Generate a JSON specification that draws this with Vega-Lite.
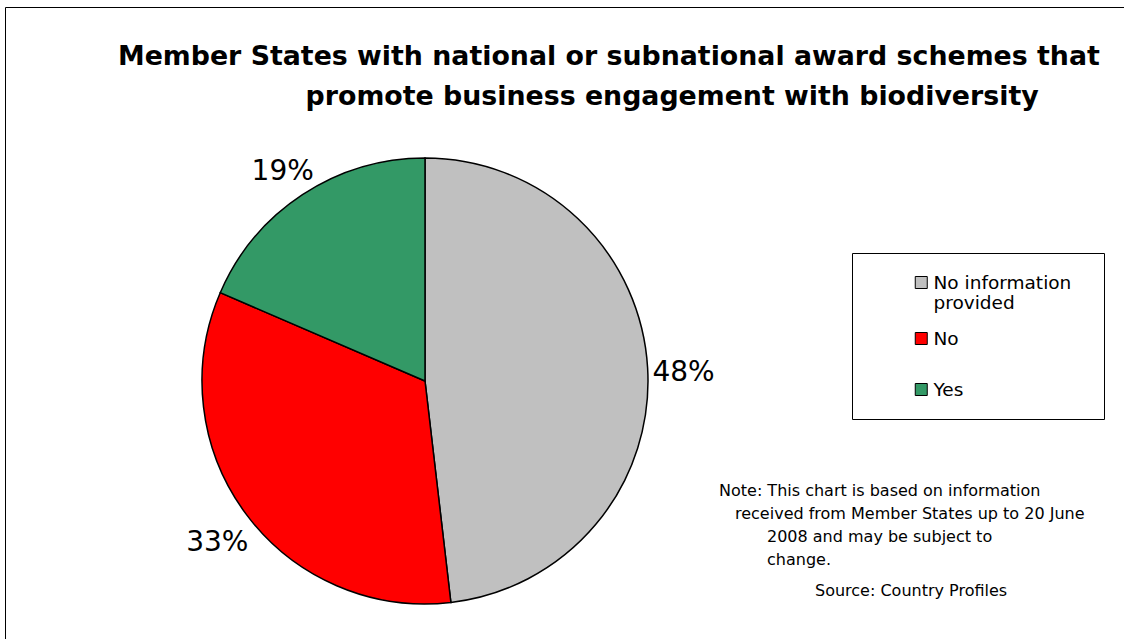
{
  "$schema": "https://vega.github.io/schema/vega-lite/v6.json",
  "autosize": {"type": "none"},
  "padding": {"left": 202, "top": 158, "right": 922, "bottom": 481},
  "background": "white",
  "title": {
    "text": ["Member States with national or subnational award schemes that", "\u200b\u2002\u2002\u2002\u2002\u2002\u2002\u2002\u2002\u2002\u2002\u2002\u2002\u2002\u2002promote business engagement with biodiversity"],
    "orient": "top",
    "anchor": "start",
    "frame": "group",
    "align": "left",
    "font": "DejaVu Sans",
    "fontSize": 26.8,
    "fontWeight": "bold",
    "color": "black",
    "lineHeight": 40,
    "offset": 0,
    "dx": -84,
    "dy": 104
  },
  "data": {
    "values": [
      {"category": "No information provided", "count": 13, "pct": 0.4815, "ord": 1},
      {"category": "No", "count": 9, "pct": 0.3333, "ord": 2},
      {"category": "Yes", "count": 5, "pct": 0.1852, "ord": 3}
    ]
  },
  "vconcat": [
    {
      "width": 446,
      "height": 446,
      "title": {
        "text": ["Note: This chart is based on information", "\u200b\u2002\u2002received from Member States up to 20 June", "\u200b\u2002\u2002\u2002\u2002\u2002\u20022008 and may be subject to", "\u200b\u2002\u2002\u2002\u2002\u2002\u2002change."],
        "subtitle": "\u200b\u2002\u2002\u2002\u2002\u2002\u2002\u2002\u2002\u2002\u2002\u2002\u2002Source: Country Profiles",
        "orient": "bottom",
        "anchor": "start",
        "frame": "group",
        "align": "left",
        "font": "DejaVu Sans",
        "fontSize": 16,
        "fontWeight": "normal",
        "color": "black",
        "lineHeight": 23,
        "subtitleFont": "DejaVu Sans",
        "subtitleFontSize": 16,
        "subtitleColor": "black",
        "subtitlePadding": 15,
        "offset": 0,
        "dx": 517,
        "dy": -307
      },
      "layer": [
        {
          "transform": [{"filter": "datum.count < 0"}],
          "mark": {"type": "point", "opacity": 0},
          "encoding": {
            "x": {
              "field": "count",
              "type": "quantitative",
              "scale": {"domain": [0, 1], "range": [-197, 940], "zero": false, "nice": false},
              "axis": {"orient": "top", "offset": 151, "labels": false, "ticks": false, "grid": false, "title": null, "domain": true, "domainColor": "black", "domainWidth": 1}
            },
            "y": {
              "field": "count",
              "type": "quantitative",
              "scale": {"domain": [0, 1], "range": [481, -151], "zero": false, "nice": false},
              "axis": {"orient": "left", "offset": 197, "labels": false, "ticks": false, "grid": false, "title": null, "domain": true, "domainColor": "black", "domainWidth": 1}
            }
          }
        },
        {
          "mark": {"type": "arc", "radius": 223, "stroke": "black", "strokeWidth": 1.5},
          "encoding": {
            "theta": {"field": "count", "type": "quantitative", "stack": true},
            "order": {"field": "ord", "type": "quantitative"},
            "color": {
              "field": "category",
              "type": "nominal",
              "scale": {
                "domain": ["No information provided", "No", "Yes"],
                "range": ["#C0C0C0", "#FF0000", "#339966"]
              },
              "legend": {
                "orient": "none",
                "legendX": 650,
                "legendY": 95,
                "title": null,
                "fillColor": "white",
                "strokeColor": "black",
                "padding": 4,
                "symbolType": "square",
                "symbolSize": 144,
                "symbolStrokeColor": "black",
                "symbolStrokeWidth": 1,
                "symbolOffset": 56,
                "labelOffset": 3,
                "labelFont": "DejaVu Sans",
                "labelFontSize": 18.5,
                "labelColor": "black",
                "labelLimit": 400,
                "clipHeight": 51,
                "rowPadding": 0,
                "labelExpr": "datum.label == 'No information provided' ? ['No information\u2002\u2002\u2002\u200b', 'provided'] : datum.label"
              }
            }
          }
        },
        {
          "mark": {"type": "text", "radius": 259, "dy": 7, "font": "DejaVu Sans", "fontSize": 28, "color": "black"},
          "encoding": {
            "theta": {"field": "count", "type": "quantitative", "stack": true},
            "order": {"field": "ord", "type": "quantitative"},
            "text": {"field": "pct", "type": "quantitative", "format": ".0%"}
          }
        }
      ]
    }
  ],
  "config": {"view": {"stroke": null}}
}
